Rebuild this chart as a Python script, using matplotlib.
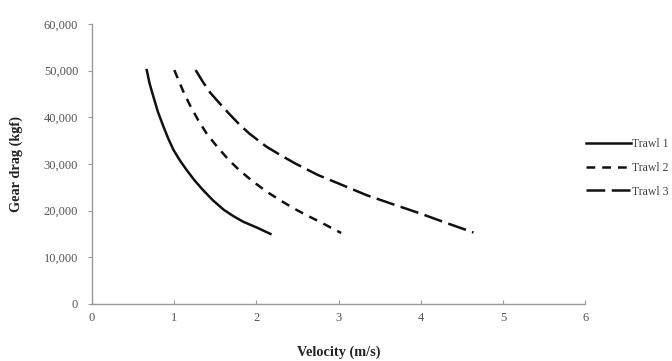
import matplotlib
matplotlib.use("Agg")
import matplotlib.pyplot as plt
from matplotlib.ticker import FuncFormatter

# Velocity (m/s) vs gear drag (kgf)
trawl1_v = [0.665, 0.70, 0.746, 0.80, 0.868, 0.93, 0.99, 1.07, 1.15, 1.25, 1.35, 1.47, 1.60, 1.72, 1.84, 2.0, 2.17]
trawl1_d = [50100, 47200, 44400, 41200, 38000, 35300, 33000, 30700, 28700, 26400, 24400, 22200, 20200, 18800, 17600, 16400, 15000]

trawl2_v = [1.0, 1.11, 1.19, 1.29, 1.39, 1.52, 1.66, 1.80, 1.96, 2.12, 2.28, 2.45, 2.61, 2.77, 2.9, 3.03]
trawl2_d = [50100, 45500, 42600, 39400, 36600, 33700, 30900, 28500, 26200, 24100, 22300, 20500, 19000, 17600, 16400, 15200]

trawl3_v = [1.26, 1.35, 1.44, 1.56, 1.68, 1.80, 1.92, 2.12, 2.29, 2.47, 2.75, 3.04, 3.34, 3.67, 3.99, 4.27, 4.64]
trawl3_d = [50100, 47500, 45200, 42800, 40500, 38300, 36400, 33700, 31900, 30100, 27600, 25500, 23300, 21300, 19400, 17600, 15300]

labels = ["Trawl 1", "Trawl 2", "Trawl 3"]

plt.rcParams['font.family'] = ['Liberation Serif', 'DejaVu Serif']

fig = plt.figure(figsize=(6.72, 3.61), dpi=100)
ax = fig.add_axes([0.137, 0.158, 0.734, 0.776])

ax.plot(trawl1_v, trawl1_d, color='#111111', lw=1.8, label=labels[0])
ax.plot(trawl2_v, trawl2_d, color='#111111', lw=1.8, dashes=(3.5, 2.8), label=labels[1])
ax.plot(trawl3_v, trawl3_d, color='#111111', lw=1.8, dashes=(7.5, 2.6), label=labels[2])

ax.set_xlim(0, 6)
ax.set_ylim(0, 60000)
ax.set_xticks(range(0, 7))
ax.set_yticks(range(0, 60001, 10000))
ax.yaxis.set_major_formatter(FuncFormatter(lambda v, p: f"{int(v):,}"))

for side in ['top', 'right']:
    ax.spines[side].set_visible(False)
for side in ['left', 'bottom']:
    ax.spines[side].set_color('#999999')
    ax.spines[side].set_linewidth(1.0)
ax.tick_params(axis='both', colors='#999999', labelcolor='#555555', labelsize=9, length=3)
ax.tick_params(axis='x', direction='in', pad=6)
ax.tick_params(axis='y', pad=7)

ax.set_xlabel("Velocity (m/s)", fontsize=10.3, fontweight='bold', labelpad=15, color='#222222')
ax.set_ylabel("Gear drag (kgf)", fontsize=10.3, fontweight='bold', labelpad=15, color='#222222')

ax.legend(loc='center left', bbox_to_anchor=(1.0, 0.486), frameon=False,
          fontsize=8.5, handlelength=3.8, handletextpad=0.05, labelspacing=1.0,
          borderpad=0, borderaxespad=0.1, labelcolor='#444444')

fig.savefig("out.png", dpi=100)
